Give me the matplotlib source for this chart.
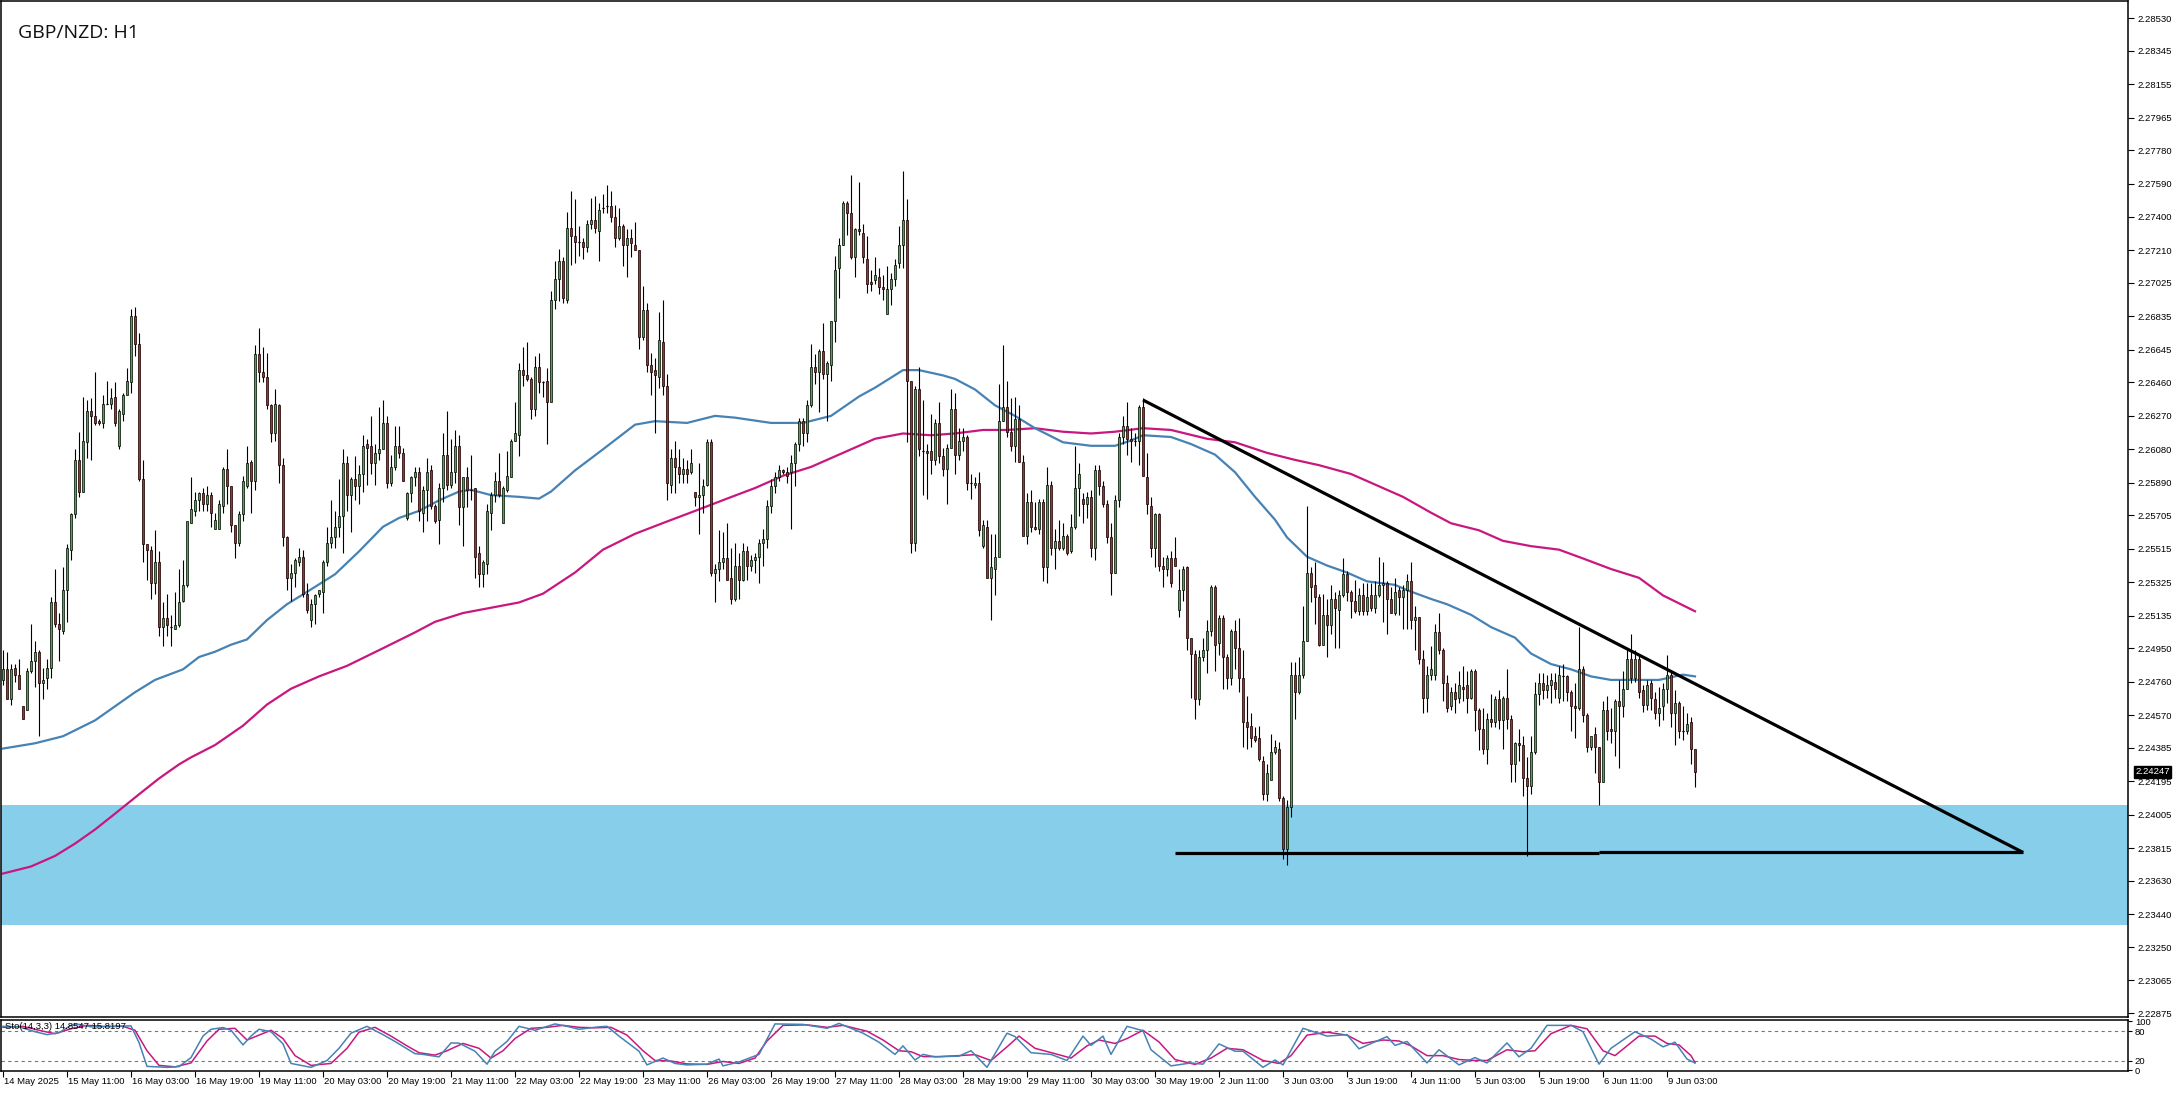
import matplotlib
matplotlib.use("Agg")
import matplotlib.pyplot as plt
import matplotlib.transforms as mtransforms
import numpy as np

# ---------------- DATA ----------------
opens = [
2.2477,2.2483,2.2466,2.2484,2.2480,2.2462,2.2460,2.2482,2.2488,2.2493,
2.2475,2.2478,2.2484,2.2521,2.2509,2.2505,2.2528,2.2551,2.2571,2.2602,
2.2584,2.2612,2.2630,2.2627,2.2624,2.2623,2.2634,2.2634,2.2638,2.2610,
2.2628,2.2639,2.2646,2.2684,2.2668,2.2591,2.2554,2.2551,2.2532,2.2544,
2.2507,2.2512,2.2507,2.2506,2.2508,2.2522,2.2531,2.2566,2.2573,2.2579,
2.2583,2.2577,2.2582,2.2563,2.2563,2.2576,2.2597,2.2587,2.2565,2.2555,
2.2571,2.2587,2.2601,2.2590,2.2662,2.2652,2.2649,2.2633,2.2617,2.2633,
2.2599,2.2558,2.2535,2.2538,2.2544,2.2547,2.2526,2.2511,2.2520,2.2526,
2.2527,2.2544,2.2555,2.2558,2.2564,2.2570,2.2600,2.2582,2.2591,2.2587,
2.2594,2.2611,2.2610,2.2600,2.2606,2.2608,2.2623,2.2589,2.2598,2.2610,
2.2606,2.2569,2.2583,2.2592,2.2595,2.2572,2.2585,2.2596,2.2576,2.2568,
2.2586,2.2605,2.2588,2.2595,2.2610,2.2575,2.2592,2.2585,2.2586,2.2549,
2.2537,2.2543,2.2572,2.2582,2.2590,2.2566,2.2585,2.2592,2.2613,2.2616,
2.2653,2.2650,2.2648,2.2631,2.2655,2.2646,2.2647,2.2635,2.2693,2.2705,
2.2715,2.2693,2.2734,2.2729,2.2726,2.2726,2.2723,2.2736,2.2738,2.2732,
2.2745,2.2746,2.2746,2.2740,2.2728,2.2735,2.2724,2.2728,2.2724,2.2721,
2.2672,2.2687,2.2656,2.2653,2.2649,2.2669,2.2644,2.2588,2.2603,2.2598,
2.2594,2.2597,2.2595,2.2584,2.2581,2.2582,2.2588,2.2612,2.2538,2.2540,
2.2544,2.2546,2.2535,2.2523,2.2542,2.2534,2.2550,2.2542,2.2545,2.2547,
2.2555,2.2557,2.2576,2.2587,2.2592,2.2596,2.2595,2.2595,2.2600,2.2611,
2.2624,2.2617,2.2633,2.2655,2.2652,2.2664,2.2651,2.2656,2.2681,2.2711,
2.2724,2.2748,2.2742,2.2717,2.2733,2.2731,2.2716,2.2703,2.2704,2.2706,
2.2700,2.2685,2.2699,2.2705,2.2714,2.2724,2.2738,2.2647,2.2555,2.2642,
2.2607,2.2607,2.2607,2.2602,2.2623,2.2604,2.2597,2.2609,2.2631,2.2605,
2.2613,2.2615,2.2589,2.2588,2.2589,2.2553,2.2564,2.2535,2.2540,2.2547,
2.2624,2.2632,2.2618,2.2610,2.2625,2.2601,2.2559,2.2578,2.2564,2.2563,
2.2578,2.2541,2.2588,2.2552,2.2556,2.2552,2.2559,2.2550,2.2564,2.2586,
2.2580,2.2577,2.2581,2.2552,2.2596,2.2587,2.2577,2.2558,2.2538,2.2579,
2.2615,2.2621,2.2614,2.2613,2.2613,2.2632,2.2592,2.2576,2.2552,2.2571,
2.2542,2.2540,2.2546,2.2546,2.2517,2.2528,2.2541,2.2501,2.2492,2.2466,
2.2490,2.2494,2.2505,2.2530,2.2498,2.2512,2.2490,2.2478,2.2505,2.2495,
2.2478,2.2453,2.2451,2.2445,2.2444,2.2431,2.2412,2.2420,2.2436,2.2438,
2.2410,2.2381,2.2405,2.2480,2.2470,2.2480,2.2499,2.2538,2.2531,2.2524,
2.2497,2.2514,2.2508,2.2523,2.2517,2.2525,2.2537,2.2527,2.2522,2.2516,
2.2525,2.2516,2.2525,2.2518,2.2525,2.2531,2.2532,2.2523,2.2515,2.2528,
2.2524,2.2528,2.2533,2.2511,2.2513,2.2489,2.2467,2.2480,2.2480,2.2504,
2.2494,2.2475,2.2462,2.2470,2.2467,2.2473,2.2474,2.2467,2.2482,2.2460,
2.2449,2.2438,2.2455,2.2453,2.2466,2.2454,2.2467,2.2455,2.2429,2.2441,
2.2440,2.2421,2.2417,2.2436,2.2469,2.2475,2.2471,2.2474,2.2476,2.2467,
2.2479,2.2479,2.2470,2.2462,2.2461,2.2483,2.2457,2.2439,2.2446,2.2439,
2.2419,2.2460,2.2449,2.2448,2.2465,2.2462,2.2472,2.2489,2.2478,2.2489,
2.2471,2.2463,2.2475,2.2466,2.2458,2.2462,2.2472,2.2480,2.2458,2.2464,
2.2448,2.2448,2.2453,2.2438]

highs = [
2.2494,2.2493,2.2486,2.2486,2.2489,2.2462,2.2484,2.2509,2.2499,2.2494,
2.2484,2.2489,2.2524,2.2540,2.2515,2.2541,2.2554,2.2572,2.2608,2.2618,
2.2638,2.2636,2.2637,2.2652,2.2625,2.2639,2.2647,2.2643,2.2646,2.2631,
2.2640,2.2654,2.2688,2.2689,2.2674,2.2602,2.2554,2.2553,2.2562,2.2550,
2.2521,2.2526,2.2514,2.2527,2.2540,2.2545,2.2567,2.2592,2.2584,2.2584,
2.2586,2.2587,2.2584,2.2572,2.2579,2.2598,2.2608,2.2587,2.2565,2.2573,
2.2593,2.2610,2.2602,2.2667,2.2677,2.2666,2.2663,2.2634,2.2642,2.2634,
2.2603,2.2559,2.2543,2.2546,2.2552,2.2551,2.2532,2.2523,2.2526,2.2528,
2.2545,2.2564,2.2579,2.2573,2.2591,2.2608,2.2604,2.2592,2.2604,2.2599,
2.2616,2.2614,2.2627,2.2611,2.2632,2.2636,2.2627,2.2605,2.2621,2.2621,
2.2609,2.2584,2.2593,2.2598,2.2598,2.2587,2.2603,2.2599,2.2577,2.2589,
2.2617,2.2630,2.2614,2.2619,2.2616,2.2592,2.2598,2.2605,2.2586,2.2553,
2.2545,2.2577,2.2584,2.2595,2.2606,2.2587,2.2607,2.2614,2.2635,2.2657,
2.2666,2.2669,2.2649,2.2661,2.2663,2.2647,2.2654,2.2698,2.2715,2.2722,
2.2717,2.2743,2.2755,2.2750,2.2735,2.2728,2.2738,2.2751,2.2752,2.2748,
2.2753,2.2758,2.2755,2.2747,2.2745,2.2736,2.2733,2.2733,2.2737,2.2721,
2.2701,2.2691,2.2663,2.2660,2.2686,2.2693,2.2651,2.2608,2.2613,2.2608,
2.2603,2.2602,2.2608,2.2584,2.2600,2.2591,2.2614,2.2614,2.2543,2.2562,
2.2561,2.2566,2.2552,2.2555,2.2549,2.2555,2.2553,2.2548,2.2549,2.2557,
2.2563,2.2579,2.2591,2.2595,2.2599,2.2597,2.2598,2.2605,2.2612,2.2626,
2.2626,2.2636,2.2668,2.2662,2.2665,2.2680,2.2658,2.2681,2.2718,2.2728,
2.2749,2.2749,2.2764,2.2734,2.2760,2.2736,2.2729,2.2710,2.2717,2.2711,
2.2707,2.2712,2.2708,2.2716,2.2735,2.2766,2.2750,2.2647,2.2644,2.2655,
2.2636,2.2611,2.2628,2.2625,2.2635,2.2609,2.2611,2.2642,2.2640,2.2620,
2.2620,2.2616,2.2594,2.2592,2.2595,2.2568,2.2568,2.2560,2.2560,2.2645,
2.2667,2.2647,2.2637,2.2638,2.2633,2.2605,2.2583,2.2585,2.2578,2.2580,
2.2580,2.2598,2.2590,2.2563,2.2568,2.2566,2.2560,2.2571,2.2610,2.2600,
2.2583,2.2584,2.2585,2.2599,2.2599,2.2590,2.2579,2.2566,2.2582,2.2617,
2.2627,2.2635,2.2620,2.2617,2.2633,2.2637,2.2606,2.2581,2.2572,2.2572,
2.2547,2.2548,2.2550,2.2558,2.2540,2.2542,2.2542,2.2501,2.2494,2.2494,
2.2501,2.2511,2.2531,2.2531,2.2514,2.2514,2.2492,2.2506,2.2511,2.2512,
2.2494,2.2468,2.2458,2.2450,2.2451,2.2434,2.2429,2.2446,2.2443,2.2442,
2.2411,2.2409,2.2487,2.2487,2.2490,2.2519,2.2576,2.2541,2.2544,2.2526,
2.2526,2.2523,2.2531,2.2527,2.2528,2.2546,2.2539,2.2528,2.2534,2.2529,
2.2532,2.2532,2.2532,2.2533,2.2547,2.2544,2.2533,2.2530,2.2535,2.2530,
2.2531,2.2537,2.2544,2.2519,2.2513,2.2494,2.2485,2.2496,2.2509,2.2515,
2.2495,2.2480,2.2473,2.2475,2.2482,2.2485,2.2482,2.2483,2.2483,2.2461,
2.2461,2.2458,2.2469,2.2468,2.2471,2.2468,2.2483,2.2457,2.2442,2.2449,
2.2445,2.2433,2.2445,2.2476,2.2481,2.2481,2.2480,2.2481,2.2481,2.2485,
2.2486,2.2480,2.2471,2.2475,2.2507,2.2485,2.2458,2.2445,2.2450,2.2439,
2.2465,2.2468,2.2461,2.2466,2.2477,2.2482,2.2495,2.2503,2.2494,2.2492,
2.2474,2.2477,2.2477,2.2470,2.2473,2.2475,2.2491,2.2482,2.2471,2.2465,
2.2462,2.2458,2.2456,2.2438]

lows = [
2.2474,2.2466,2.2463,2.2476,2.2472,2.2455,2.2460,2.2481,2.2473,2.2445,
2.2466,2.2472,2.2478,2.2507,2.2488,2.2503,2.2510,2.2545,2.2569,2.2581,
2.2584,2.2603,2.2602,2.2622,2.2622,2.2620,2.2634,2.2631,2.2621,2.2608,
2.2624,2.2639,2.2640,2.2661,2.2590,2.2544,2.2534,2.2523,2.2526,2.2502,
2.2496,2.2502,2.2496,2.2506,2.2507,2.2521,2.2530,2.2566,2.2570,2.2573,
2.2573,2.2573,2.2564,2.2563,2.2563,2.2572,2.2577,2.2561,2.2546,2.2553,
2.2567,2.2586,2.2572,2.2585,2.2646,2.2646,2.2631,2.2612,2.2613,2.2589,
2.2553,2.2528,2.2522,2.2530,2.2542,2.2524,2.2515,2.2507,2.2509,2.2524,
2.2515,2.2542,2.2552,2.2552,2.2558,2.2549,2.2573,2.2561,2.2579,2.2577,
2.2584,2.2588,2.2594,2.2588,2.2602,2.2608,2.2586,2.2587,2.2596,2.2603,
2.2590,2.2568,2.2578,2.2587,2.2567,2.2561,2.2567,2.2574,2.2566,2.2554,
2.2578,2.2585,2.2586,2.2589,2.2565,2.2553,2.2575,2.2579,2.2535,2.2530,
2.2530,2.2537,2.2562,2.2578,2.2581,2.2566,2.2584,2.2592,2.2613,2.2604,
2.2644,2.2647,2.2625,2.2627,2.2640,2.2638,2.2611,2.2635,2.2688,2.2692,
2.2691,2.2691,2.2713,2.2714,2.2718,2.2716,2.2720,2.2733,2.2731,2.2715,
2.2742,2.2742,2.2737,2.2723,2.2727,2.2712,2.2706,2.2717,2.2721,2.2665,
2.2670,2.2652,2.2639,2.2617,2.2643,2.2639,2.2579,2.2583,2.2583,2.2589,
2.2589,2.2589,2.2594,2.2576,2.2560,2.2572,2.2587,2.2536,2.2521,2.2533,
2.2540,2.2534,2.2520,2.2522,2.2523,2.2533,2.2534,2.2539,2.2538,2.2532,
2.2542,2.2552,2.2572,2.2583,2.2590,2.2594,2.2589,2.2563,2.2587,2.2607,
2.2610,2.2612,2.2632,2.2645,2.2629,2.2648,2.2624,2.2647,2.2669,2.2694,
2.2724,2.2730,2.2716,2.2706,2.2730,2.2714,2.2697,2.2698,2.2702,2.2696,
2.2693,2.2685,2.2690,2.2701,2.2711,2.2711,2.2612,2.2549,2.2550,2.2604,
2.2582,2.2580,2.2594,2.2599,2.2600,2.2593,2.2577,2.2609,2.2594,2.2602,
2.2607,2.2585,2.2580,2.2586,2.2559,2.2552,2.2535,2.2511,2.2525,2.2547,
2.2624,2.2615,2.2607,2.2601,2.2601,2.2559,2.2554,2.2561,2.2562,2.2560,
2.2533,2.2532,2.2548,2.2540,2.2551,2.2551,2.2548,2.2549,2.2563,2.2570,
2.2566,2.2569,2.2547,2.2545,2.2582,2.2575,2.2555,2.2525,2.2538,2.2575,
2.2611,2.2605,2.2601,2.2610,2.2599,2.2593,2.2571,2.2547,2.2541,2.2539,
2.2530,2.2536,2.2530,2.2542,2.2513,2.2522,2.2494,2.2467,2.2455,2.2463,
2.2488,2.2481,2.2502,2.2482,2.2491,2.2472,2.2472,2.2474,2.2483,2.2470,
2.2439,2.2438,2.2439,2.2442,2.2431,2.2409,2.2408,2.2420,2.2435,2.2408,
2.2375,2.2372,2.2399,2.2455,2.2469,2.2478,2.2499,2.2521,2.2509,2.2496,
2.2497,2.2490,2.2503,2.2495,2.2495,2.2524,2.2522,2.2512,2.2515,2.2514,
2.2514,2.2514,2.2516,2.2515,2.2524,2.2510,2.2503,2.2515,2.2514,2.2514,
2.2506,2.2506,2.2506,2.2494,2.2486,2.2458,2.2459,2.2477,2.2477,2.2492,
2.2465,2.2459,2.2460,2.2458,2.2464,2.2465,2.2458,2.2466,2.2448,2.2437,
2.2435,2.2429,2.2450,2.2450,2.2449,2.2438,2.2449,2.2419,2.2419,2.2431,
2.2411,2.2377,2.2412,2.2435,2.2463,2.2466,2.2467,2.2464,2.2467,2.2464,
2.2465,2.2465,2.2448,2.2444,2.2460,2.2453,2.2436,2.2437,2.2424,2.2406,
2.2419,2.2443,2.2441,2.2434,2.2427,2.2456,2.2472,2.2475,2.2476,2.2467,
2.2459,2.2460,2.2460,2.2455,2.2451,2.2454,2.2464,2.2450,2.2440,2.2444,
2.2443,2.2446,2.2429,2.2416]

closes = [
2.2483,2.2466,2.2483,2.2480,2.2472,2.2455,2.2482,2.2488,2.2493,2.2475,
2.2477,2.2484,2.2521,2.2509,2.2506,2.2528,2.2552,2.2571,2.2602,2.2584,
2.2613,2.2630,2.2627,2.2623,2.2623,2.2634,2.2634,2.2637,2.2623,2.2630,
2.2639,2.2647,2.2684,2.2668,2.2591,2.2554,2.2551,2.2532,2.2544,2.2507,
2.2512,2.2508,2.2507,2.2508,2.2521,2.2531,2.2567,2.2574,2.2579,2.2583,
2.2577,2.2582,2.2572,2.2568,2.2577,2.2597,2.2587,2.2565,2.2555,2.2571,
2.2590,2.2600,2.2590,2.2662,2.2652,2.2649,2.2633,2.2617,2.2634,2.2599,
2.2558,2.2535,2.2538,2.2545,2.2547,2.2526,2.2517,2.2520,2.2525,2.2528,
2.2544,2.2555,2.2558,2.2564,2.2570,2.2600,2.2582,2.2591,2.2587,2.2594,
2.2610,2.2609,2.2600,2.2606,2.2608,2.2623,2.2589,2.2598,2.2610,2.2606,
2.2590,2.2583,2.2592,2.2595,2.2573,2.2585,2.2595,2.2576,2.2567,2.2586,
2.2605,2.2588,2.2595,2.2610,2.2575,2.2592,2.2585,2.2585,2.2547,2.2537,
2.2544,2.2573,2.2582,2.2590,2.2582,2.2586,2.2593,2.2613,2.2617,2.2653,
2.2650,2.2648,2.2631,2.2655,2.2646,2.2646,2.2635,2.2693,2.2705,2.2715,
2.2694,2.2734,2.2729,2.2726,2.2726,2.2723,2.2736,2.2738,2.2734,2.2744,
2.2745,2.2746,2.2740,2.2728,2.2735,2.2724,2.2728,2.2725,2.2721,2.2672,
2.2687,2.2656,2.2652,2.2650,2.2670,2.2644,2.2589,2.2603,2.2598,2.2594,
2.2597,2.2594,2.2600,2.2581,2.2582,2.2587,2.2612,2.2538,2.2540,2.2544,
2.2546,2.2534,2.2523,2.2542,2.2534,2.2550,2.2542,2.2545,2.2547,2.2555,
2.2557,2.2576,2.2587,2.2592,2.2596,2.2595,2.2593,2.2600,2.2611,2.2624,
2.2617,2.2633,2.2655,2.2652,2.2664,2.2651,2.2657,2.2681,2.2710,2.2724,
2.2748,2.2742,2.2717,2.2733,2.2732,2.2717,2.2702,2.2702,2.2707,2.2700,
2.2699,2.2699,2.2705,2.2713,2.2724,2.2738,2.2647,2.2555,2.2642,2.2608,
2.2607,2.2606,2.2602,2.2623,2.2604,2.2597,2.2609,2.2631,2.2605,2.2613,
2.2615,2.2589,2.2589,2.2589,2.2562,2.2565,2.2535,2.2541,2.2547,2.2624,
2.2632,2.2618,2.2610,2.2625,2.2601,2.2559,2.2578,2.2564,2.2563,2.2578,
2.2541,2.2588,2.2552,2.2556,2.2552,2.2559,2.2549,2.2564,2.2586,2.2594,
2.2577,2.2581,2.2552,2.2596,2.2587,2.2577,2.2558,2.2538,2.2579,2.2615,
2.2621,2.2614,2.2613,2.2613,2.2632,2.2593,2.2577,2.2552,2.2571,2.2542,
2.2540,2.2546,2.2532,2.2542,2.2528,2.2540,2.2501,2.2492,2.2466,2.2490,
2.2494,2.2505,2.2530,2.2497,2.2512,2.2490,2.2478,2.2505,2.2495,2.2478,
2.2453,2.2450,2.2444,2.2443,2.2432,2.2412,2.2424,2.2436,2.2439,2.2410,
2.2381,2.2405,2.2480,2.2470,2.2480,2.2499,2.2538,2.2530,2.2524,2.2497,
2.2514,2.2508,2.2523,2.2518,2.2525,2.2537,2.2527,2.2522,2.2516,2.2525,
2.2516,2.2524,2.2518,2.2525,2.2531,2.2532,2.2523,2.2515,2.2527,2.2524,
2.2528,2.2533,2.2511,2.2513,2.2489,2.2467,2.2480,2.2483,2.2504,2.2494,
2.2475,2.2461,2.2470,2.2466,2.2474,2.2472,2.2467,2.2482,2.2460,2.2449,
2.2438,2.2455,2.2453,2.2466,2.2454,2.2467,2.2455,2.2429,2.2441,2.2440,
2.2421,2.2417,2.2436,2.2469,2.2475,2.2471,2.2474,2.2477,2.2472,2.2480,
2.2479,2.2470,2.2462,2.2461,2.2483,2.2457,2.2439,2.2445,2.2439,2.2419,
2.2460,2.2448,2.2448,2.2465,2.2462,2.2472,2.2489,2.2478,2.2489,2.2470,
2.2463,2.2474,2.2467,2.2458,2.2461,2.2472,2.2480,2.2458,2.2464,2.2448,
2.2448,2.2452,2.2438,2.24247]

# moving averages (bar index, value)
ma_blue_bars = [0,8,15,23,33,38,45,49,53,57,61,66,71,76,83,89,95,99,104,109,114,117,122,129,134,137,
                143,150,158,163,171,178,183,192,200,207,214,218,225,229,235,238,243,248,253,258,265,272,
                278,282,285,292,297,303,308,313,318,321,326,331,336,341,348,351,357,361,367,372,378,382,
                387,392,397,402,409,414,420,423]
ma_blue_vals = [2.2438,2.2441,2.2445,2.2454,2.2470,2.2477,2.2483,2.2490,2.2493,2.2497,2.2500,2.2511,2.2520,
                2.2527,2.2537,2.2550,2.2564,2.2569,2.2573,2.2579,2.2584,2.2585,2.2582,2.2581,2.2580,2.2584,
                2.2596,2.2608,2.2622,2.2624,2.2623,2.2627,2.2626,2.2623,2.2623,2.2627,2.2638,2.2643,2.2653,
                2.2653,2.2650,2.2648,2.2642,2.2633,2.2627,2.2620,2.2612,2.2610,2.2610,2.2613,2.2616,2.2615,
                2.2611,2.2605,2.2595,2.2581,2.2568,2.2558,2.2547,2.2542,2.2538,2.2533,2.2531,2.2528,2.2523,
                2.2520,2.2514,2.2507,2.2501,2.2492,2.2486,2.2483,2.2479,2.2477,2.2477,2.2477,2.2480,2.2479]
ma_mag_bars = [0,7,13,18,23,28,34,39,44,47,53,60,66,72,79,86,95,103,108,115,122,129,135,143,150,158,166,
               173,181,188,195,202,208,214,218,225,232,238,245,251,258,265,272,278,285,292,301,308,316,323,
               329,337,343,350,357,362,369,375,382,389,395,402,409,415,423]
ma_mag_vals = [2.2367,2.2371,2.2377,2.2384,2.2392,2.2401,2.2412,2.2421,2.2429,2.2433,2.2440,2.2451,2.2463,
               2.2472,2.2479,2.2485,2.2495,2.2504,2.2510,2.2515,2.2518,2.2521,2.2526,2.2538,2.2551,2.2560,
               2.2567,2.2573,2.2580,2.2586,2.2593,2.2598,2.2604,2.2610,2.2614,2.2617,2.2616,2.2617,2.2619,
               2.2619,2.2620,2.2618,2.2617,2.2618,2.2620,2.2619,2.2614,2.2612,2.2606,2.2602,2.2599,2.2594,
               2.2588,2.2581,2.2572,2.2566,2.2562,2.2556,2.2553,2.2551,2.2546,2.2540,2.2535,2.2525,2.2516]

# stochastic (14,3,3)
sto_k_bars = [0,4,8,11,14,17,19,22,25,28,32,34,36,41,44,47,50,52,55,57,60,62,64,67,70,72,77,81,84,87,
              91,95,98,103,105,109,112,114,118,121,123,126,129,133,138,141,144,149,151,154,159,161,165,168,
              171,176,179,180,184,189,193,200,206,209,215,219,223,225,228,230,233,239,242,246,251,253,257,
              262,266,270,272,275,277,281,285,287,292,297,300,304,308,310,315,318,320,325,331,336,339,346,
              348,351,356,359,364,368,371,376,379,382,386,392,395,399,402,408,412,415,418,421,423]
sto_k_vals = [90,89,79,73,77,92,94,89,89,90,91,57,8,6,7.5,26,70,84,87.5,82,52,70,84,79,54,14,6,20,45,76,
              90,73,59,34,32.5,27.5,56,55.6,39,12.5,39,59,90,82,95,90,84,89,90,70,39,11,25,14,11,12.5,23,9,
              17,32.5,95,94,86,96,76,57.5,32.5,50,21,32.5,27.5,29,40,6,76,69,36,32.5,20,70,51,70,32.5,90,81,
              42,9,15,12.5,54,39,39,6,21,11,86,70,73,44,69,51,59,15,42,11,26,15,56,27.5,45,92,92,79,12.5,45,
              79,64,48,57.5,23,14.8547]
sto_d_bars = [0,5,10,13,17,21,25,30,33,36,39,43,47,51,54,58,61,64,67,70,73,77,82,86,89,93,97,101,104,108,
              111,115,119,122,125,128,132,136,140,144,148,152,156,160,163,167,171,176,180,184,188,191,195,
              201,206,210,216,220,224,227,230,234,239,243,247,251,254,258,263,267,271,274,278,281,285,289,
              293,298,302,306,310,315,319,322,326,331,336,340,345,349,352,356,360,364,368,371,376,380,383,
              387,392,396,400,403,409,413,416,419,422,423]
sto_d_vals = [88,90,80,75,85,92,90,90,82,40,10,7,15,60,84,86,62,72,82,65,30,10,14,45,78,88,70,50,36,31,
              40,55,45,25,40,65,86,88,92,88,87,88,72,40,20,19,13,12,18,14,25,60,92,93,88,92,80,62,40,38,
              28,28,30,32,20,48,70,45,34,25,50,62,55,65,82,58,22,12,25,45,42,20,14,30,72,78,72,55,62,60,
              50,30,30,22,20,20,42,38,40,75,92,85,40,30,70,70,55,52,30,15.8197]

price_ticks = [2.28530,2.28345,2.28155,2.27965,2.27780,2.27590,2.27400,2.27210,2.27025,2.26835,2.26645,
               2.26460,2.26270,2.26080,2.25890,2.25705,2.25515,2.25325,2.25135,2.24950,2.24760,2.24570,
               2.24385,2.24195,2.24005,2.23815,2.23630,2.23440,2.23250,2.23065,2.22875]
time_label_bars = list(range(0, 417, 16))
time_labels = ["14 May 2025","15 May 11:00","16 May 03:00","16 May 19:00","19 May 11:00","20 May 03:00",
               "20 May 19:00","21 May 11:00","22 May 03:00","22 May 19:00","23 May 11:00","26 May 03:00",
               "26 May 19:00","27 May 11:00","28 May 03:00","28 May 19:00","29 May 11:00","30 May 03:00",
               "30 May 19:00","2 Jun 11:00","3 Jun 03:00","3 Jun 19:00","4 Jun 11:00","5 Jun 03:00",
               "5 Jun 19:00","6 Jun 11:00","9 Jun 03:00"]

zone_top, zone_bottom = 2.2406, 2.2338
trend_x = [285, 505]
trend_y = [2.2636, 2.2379]
support_segments = [([293, 399], 2.23785), ([399, 505], 2.23792)]
last_price = 2.24247
title = "GBP/NZD: H1"
sto_label = "Sto(14,3,3) 14.8547 15.8197"

# ---------------- FIGURE ----------------
W, H = 2176, 1095
fig = plt.figure(figsize=(W / 100, H / 100), dpi=100)
fig.patch.set_facecolor("white")

ax = fig.add_axes([1 / W, 1 - 1017 / H, 2127 / W, 1016 / H])
ax2 = fig.add_axes([1 / W, 1 - 1071 / H, 2127 / W, 51 / H])

xmin, xmax = -0.5, 531.25
for a in (ax, ax2):
    a.set_xlim(xmin, xmax)
    for s in a.spines.values():
        s.set_linewidth(1.1)
        s.set_color("black")

ax.set_ylim(2.22855, 2.28627)

# support / resistance zone
ax.axhspan(zone_bottom, zone_top, color="#87CEEB", zorder=0, lw=0)

# moving averages
ax.plot(ma_mag_bars, ma_mag_vals, color="#C8187F", lw=1.6, zorder=2)
ax.plot(ma_blue_bars, ma_blue_vals, color="#4682B4", lw=1.6, zorder=2)

# candles
o = np.array(opens); h = np.array(highs); l = np.array(lows); c = np.array(closes)
n = len(c)
x = np.arange(n)
top = np.maximum(o, c); bot = np.minimum(o, c)
ax.vlines(x, np.minimum(l, bot), np.maximum(h, top), color="black", lw=0.8, zorder=3)
up = c >= o
bw = 0.7
ax.bar(x[up], (top - bot)[up], bottom=bot[up], width=bw, color="#2DBE2D",
       edgecolor="black", linewidth=0.5, zorder=4)
ax.bar(x[~up], (top - bot)[~up], bottom=bot[~up], width=bw, color="#F01010",
       edgecolor="black", linewidth=0.5, zorder=4)
doji = (top - bot) < 0.00004
ax.hlines(c[doji], x[doji] - bw / 2, x[doji] + bw / 2, color="black", lw=0.9, zorder=5)

# trend lines
ax.plot(trend_x, trend_y, color="black", lw=2.3, zorder=6, solid_capstyle="butt")
for xs, yv in support_segments:
    ax.plot(xs, [yv, yv], color="black", lw=2.3, zorder=6, solid_capstyle="butt")

FONT = "Liberation Sans"
FS = 6.8

# price axis
ax.set_xticks([])
ax.yaxis.tick_right()
ax.set_yticks(price_ticks)
ax.set_yticklabels([f"{v:.5f}" for v in price_ticks])
ax.tick_params(axis="y", direction="out", length=4, width=0.8, pad=3,
               labelsize=FS, colors="black")
for t in ax.get_yticklabels():
    t.set_fontfamily(FONT)

# current price box
trans_r = mtransforms.blended_transform_factory(ax.transAxes, ax.transData)
ax.text(1.0034, last_price, f"{last_price:.5f}", transform=trans_r, ha="left", va="center",
        fontsize=FS, color="white", family=FONT, zorder=10, clip_on=False,
        bbox=dict(boxstyle="square,pad=0.15", fc="black", ec="black"))

fig.text(18 / W, 1 - 38 / H, title, fontsize=14, family="Open Sans", va="baseline", ha="left",
         color="#111111")

# stochastic panel
ax2.set_ylim(-1.5, 103)
ax2.plot(sto_d_bars, sto_d_vals, color="#C8187F", lw=1.1, zorder=3)
ax2.plot(sto_k_bars, sto_k_vals, color="#4682B4", lw=1.1, zorder=4)
for lev in (20, 80):
    ax2.axhline(lev, color="#707888", lw=0.8, ls=(0, (3, 3)), zorder=1)
ax2.yaxis.tick_right()
ax2.set_yticks([0, 20, 80, 100])
ax2.set_yticklabels(["0", "20", "80", "100"])
ax2.tick_params(axis="y", direction="out", length=3, width=0.8, pad=2, labelsize=FS)
for t in ax2.get_yticklabels():
    t.set_fontfamily(FONT)
ax2.text(0.002, 0.97, sto_label, transform=ax2.transAxes, ha="left", va="top",
         fontsize=FS, family=FONT, color="black", zorder=6)

ax2.set_xticks(time_label_bars)
ax2.set_xticklabels([""] * len(time_label_bars))
ax2.tick_params(axis="x", direction="out", length=4, width=0.8)
trans_b = mtransforms.blended_transform_factory(ax2.transData, ax2.transAxes)
for b, lab in zip(time_label_bars, time_labels):
    ax2.text(b + 0.3, -0.12, lab, transform=trans_b, ha="left", va="top", fontsize=FS,
             family=FONT, color="black", clip_on=False)

fig.savefig("out.png", dpi=100, facecolor="white")
